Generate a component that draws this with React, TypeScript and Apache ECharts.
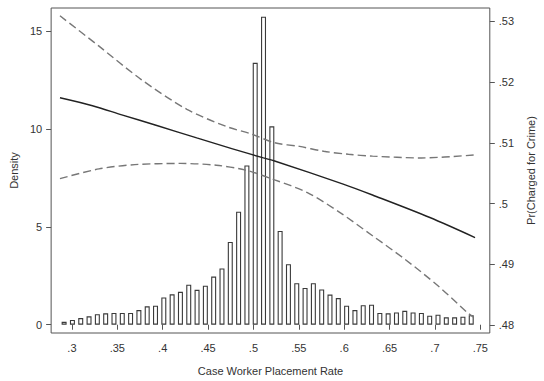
import React, { useEffect, useRef } from "react";
import * as echarts from "echarts";

// Histogram: bin lower edge of the first bin, bin width, densities of 50 bins
const binStart = 0.2868;
const binWidth = 0.009155;
const density = [
  0.15, 0.24, 0.34, 0.43, 0.54, 0.58, 0.6, 0.6, 0.6, 0.75,
  0.94, 0.97, 1.39, 1.55, 1.68, 2.04, 1.78, 1.99, 2.46, 2.87,
  4.23, 5.77, 8.13, 13.37, 15.73, 10.13, 4.79, 3.09, 2.12, 1.88,
  2.12, 1.8, 1.54, 1.36, 0.97, 0.75, 1.0, 1.02, 0.6, 0.58,
  0.63, 0.71, 0.63, 0.6, 0.46, 0.51, 0.38, 0.38, 0.41, 0.49,
];

// Fitted probability and confidence band (right axis)
const fitX = [0.2868, 0.3226, 0.3549, 0.3944, 0.4375, 0.477, 0.511, 0.5233, 0.5989, 0.6312, 0.6944, 0.7442];
const fitY = [0.5174, 0.5161, 0.5146, 0.5128, 0.5108, 0.509, 0.5075, 0.507, 0.5032, 0.5014, 0.4977, 0.4944];

const upperX = [0.2868, 0.3298, 0.3764, 0.4267, 0.4698, 0.4985, 0.5233, 0.5508, 0.5774, 0.6046, 0.6312, 0.6851, 0.7442];
const upperY = [0.5309, 0.5259, 0.5204, 0.5155, 0.5127, 0.5114, 0.51, 0.5094, 0.5086, 0.5081, 0.5078, 0.5075, 0.508];

const lowerX = [0.2868, 0.3298, 0.3693, 0.4195, 0.459, 0.4913, 0.5233, 0.5594, 0.5954, 0.6312, 0.6671, 0.703, 0.7353, 0.7424];
const lowerY = [0.5041, 0.5057, 0.5064, 0.5066, 0.5063, 0.5055, 0.5039, 0.5018, 0.4985, 0.4947, 0.4908, 0.4865, 0.4821, 0.4813];

const xTicks = [0.3, 0.35, 0.4, 0.45, 0.5, 0.55, 0.6, 0.65, 0.7, 0.75];
const leftTicks = [0, 5, 10, 15];
const rightTicks = [0.48, 0.49, 0.5, 0.51, 0.52, 0.53];

const fmt = (v: number) => String(+Number(v).toFixed(4)).replace(/^0\./, ".");

export default function App() {
  const ref = useRef<HTMLDivElement>(null);
  useEffect(() => {
    const chart = echarts.init(ref.current!, null, { renderer: "svg" });
    const font = "Liberation Sans, Arial, sans-serif";
    const textColor = "#333";
    const frame = "#555";
    const histData = density.map((d, i) => [binStart + binWidth * (i + 0.5), d]);
    chart.setOption({
      animation: false,
      backgroundColor: "#fff",
      grid: { left: 51, right: 44, top: 8, bottom: 47, show: true, borderColor: frame, borderWidth: 1 },
      xAxis: {
        type: "value",
        min: 0.27707,
        max: 0.76044,
        name: "Case Worker Placement Rate",
        nameLocation: "middle",
        nameGap: 32,
        nameTextStyle: { color: textColor, fontSize: 11, fontFamily: font },
        axisLine: { show: false },
        splitLine: { show: false },
        axisTick: { show: true, inside: false, length: 5, lineStyle: { color: frame }, customValues: xTicks },
        axisLabel: { color: textColor, fontSize: 11, fontFamily: font, margin: 9, formatter: fmt, customValues: xTicks },
      },
      yAxis: [
        {
          type: "value",
          min: -0.4225,
          max: 16.171,
          position: "left",
          name: "Density",
          nameLocation: "middle",
          nameRotate: 90,
          nameGap: 28,
          nameTextStyle: { color: textColor, fontSize: 11, fontFamily: font },
          axisLine: { show: false },
          splitLine: { show: false },
          axisTick: { show: true, inside: false, length: 5, lineStyle: { color: frame }, customValues: leftTicks },
          axisLabel: { color: textColor, fontSize: 11, fontFamily: font, margin: 9, formatter: fmt, customValues: leftTicks },
        },
        {
          type: "value",
          min: 0.478687,
          max: 0.532182,
          position: "right",
          name: "Pr(Charged for Crime)",
          nameLocation: "middle",
          nameRotate: 90,
          nameGap: 28,
          nameTextStyle: { color: textColor, fontSize: 11, fontFamily: font },
          axisLine: { show: false },
          splitLine: { show: false },
          axisTick: { show: true, inside: false, length: 5, lineStyle: { color: frame }, customValues: rightTicks },
          axisLabel: { color: textColor, fontSize: 11, fontFamily: font, margin: 9, formatter: fmt, customValues: rightTicks },
        },
      ],
      series: [
        {
          type: "bar",
          yAxisIndex: 0,
          data: histData,
          barWidth: 5,
          itemStyle: { color: "#fff", borderColor: "#3a3a3a", borderWidth: 1.1 },
          z: 1,
        },
        {
          type: "line",
          yAxisIndex: 1,
          data: fitX.map((x, i) => [x, fitY[i]]),
          symbol: "none",
          smooth: 0.3,
          lineStyle: { color: "#222", width: 1.4 },
          z: 3,
        },
        {
          type: "line",
          yAxisIndex: 1,
          data: upperX.map((x, i) => [x, upperY[i]]),
          symbol: "none",
          smooth: 0.3,
          lineStyle: { color: "#777", width: 1.4, type: [8, 4] },
          z: 3,
        },
        {
          type: "line",
          yAxisIndex: 1,
          data: lowerX.map((x, i) => [x, lowerY[i]]),
          symbol: "none",
          smooth: 0.3,
          lineStyle: { color: "#777", width: 1.4, type: [8, 4] },
          z: 3,
        },
      ],
    });
    return () => chart.dispose();
  }, []);
  return <div ref={ref} style={{ position: "fixed", left: 0, top: 0, width: 544, height: 381 }} />;
}
